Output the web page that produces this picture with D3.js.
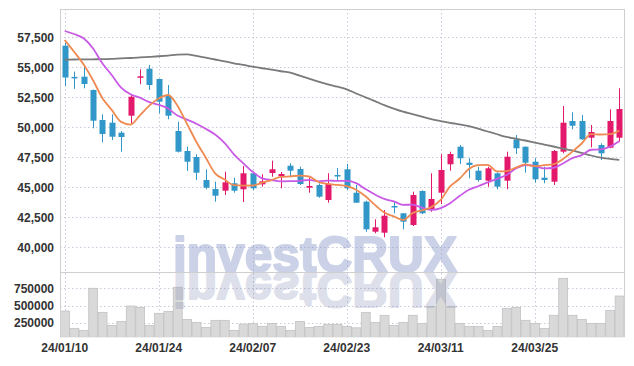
<!DOCTYPE html>
<html><head><meta charset="utf-8">
<script src="https://cdn.jsdelivr.net/npm/d3@7"></script>
<style>body{margin:0;background:#fff}svg{display:block}</style>
</head><body><div id="chart"></div>
<script>
const dates = ["24/01/10","24/01/11","24/01/12","24/01/15","24/01/16","24/01/17","24/01/18","24/01/19","24/01/22","24/01/23",
"24/01/24","24/01/25","24/01/26","24/01/29","24/01/30","24/01/31","24/02/01","24/02/02","24/02/05","24/02/06",
"24/02/07","24/02/08","24/02/13","24/02/14","24/02/15","24/02/16","24/02/19","24/02/20","24/02/21","24/02/22",
"24/02/23","24/02/26","24/02/27","24/02/28","24/02/29","24/03/04","24/03/05","24/03/06","24/03/07","24/03/08",
"24/03/11","24/03/12","24/03/13","24/03/14","24/03/15","24/03/18","24/03/19","24/03/20","24/03/21","24/03/22",
"24/03/25","24/03/26","24/03/27","24/03/28","24/03/29","24/04/01","24/04/02","24/04/03","24/04/04","24/04/05"];
const dateTicks = ["24/01/10","24/01/24","24/02/07","24/02/23","24/03/11","24/03/25"];
const priceTicks = [40000,42500,45000,47500,50000,52500,55000,57500];
const volumeTicks = [250000,500000,750000];

const open = [56800,54200,54217,53108,50608,50383,49550,50967,54200,54883,54025,52608,49692,48025,47525,45608,44858,44717,45333,44833,46167,45250,46192,45942,46800,46525,44967,45192,43942,46025,46500,44550,43800,41300,41217,43442,42833,41858,44692,43108,44550,46917,48383,47050,46383,45550,46167,45550,49000,48383,47133,45800,45467,47967,50525,50525,49133,48525,48300,49133];
const high = [57050,54650,55192,53150,51083,51083,49692,52692,54833,55192,54050,53525,50467,48383,47750,46500,45467,46300,45800,46775,46200,46083,47217,46275,47000,46717,45833,45333,46167,46608,46942,45192,43883,42333,43108,43858,42850,44633,44750,46167,47750,47967,48525,47417,46717,46717,46250,47967,49358,48400,47417,46717,48100,51775,51250,51025,50192,48667,51500,53250];
const low = [53450,53200,53250,49917,48750,48942,47967,50250,53583,53108,51167,50667,47900,46358,45608,44833,43800,44358,44550,43775,44750,45050,45883,44917,45833,45192,44550,44133,43717,45608,44775,43700,41300,41167,40833,42833,41500,41775,42775,42967,43608,46383,46942,45750,45467,45050,44833,44833,47775,46217,45383,45333,45192,47833,49833,48942,48333,47275,48250,48800];
const close = [54150,54150,53608,50550,49442,49217,49192,52550,54250,53525,52133,50967,47967,47133,46217,44967,44300,45417,44717,46167,44917,45500,46500,46108,46383,45275,45108,44217,45275,45917,44917,43717,41500,41667,42633,43333,42133,44358,42833,44025,46442,47775,47417,46858,45608,46583,45050,47550,48250,47050,45667,45608,48025,50383,50133,49000,49608,47833,50525,51525];
const volume = [420000,169000,140000,750000,401000,212000,270000,493000,474000,212000,387000,416000,765000,299000,256000,183000,285000,285000,140000,231000,241000,198000,241000,198000,140000,270000,183000,198000,227000,227000,198000,177000,401000,256000,358000,212000,256000,358000,241000,488000,881000,488000,241000,198000,198000,140000,198000,459000,474000,285000,241000,169000,358000,895000,358000,299000,241000,241000,430000,638000];
const ma5 = [57275,56300,55250,53942,52450,51450,50450,50230,51000,51800,52400,52690,51800,50300,48800,47480,46160,45650,45180,45140,45150,45380,45600,45870,45910,45980,45900,45440,45280,45200,45100,44800,44250,43540,42900,42580,42280,42850,43080,43350,43950,45070,45710,46530,46850,46870,46330,46350,46640,46910,46760,46840,46930,47360,47970,48650,49430,49400,49430,49720];
const ma10 = [58025,57775,57417,56583,55333,54358,53300,52750,52467,52100,51880,51560,50980,50640,50300,49880,49400,48700,47750,47000,46290,45750,45600,45500,45510,45540,45620,45500,45560,45530,45530,45350,44850,44400,44030,43830,43540,43550,43310,43120,43270,43680,44270,44790,45090,45410,45700,46020,46560,46860,46790,46570,46630,46980,47430,47680,48130,48160,48390,48840];
const ma60 = [55633,55650,55658,55667,55675,55700,55750,55775,55820,55870,55920,55980,56050,56080,55950,55800,55650,55500,55333,55200,55050,54920,54800,54670,54550,54300,54050,53800,53580,53380,53167,52820,52500,52180,51850,51560,51300,51100,50880,50680,50520,50370,50240,50100,49880,49650,49420,49200,49050,48900,48720,48560,48400,48230,48070,47860,47650,47480,47370,47280];

const W = 634, H = 366;
const L = 60, R = 624, T = 9, SEP = 272, B = 337.3;
const UP = "#e3196b", DOWN = "#3196c8";
const FONT = "'Liberation Sans', Arial, sans-serif";

const svg = d3.select("#chart").append("svg").attr("width", W).attr("height", H);

const x = d3.scaleBand().domain(dates).range([L, R]).paddingInner(0).paddingOuter(0);
const cx = d => x(d) + x.bandwidth() / 2;
const y = d3.scaleLinear().domain([40000, 57500]).range([247.3, 37.3]);
const yv = d3.scaleLinear().domain([0, 750000]).range([340, 288.3]);

const defs = svg.append("defs");
defs.append("clipPath").attr("id", "cp").append("rect").attr("x", L).attr("y", T).attr("width", R - L).attr("height", SEP - T);
defs.append("clipPath").attr("id", "cv").append("rect").attr("x", L).attr("y", SEP).attr("width", R - L).attr("height", B - SEP);

// grid
const grid = svg.append("g").attr("stroke", "#c9c9dc").attr("stroke-dasharray", "1.5,2.5").attr("stroke-width", 1);
grid.selectAll(".hp").data(priceTicks).join("line")
  .attr("x1", L).attr("x2", R).attr("y1", d => Math.round(y(d)) + 0.5).attr("y2", d => Math.round(y(d)) + 0.5);
grid.selectAll(".hv").data(volumeTicks).join("line")
  .attr("x1", L).attr("x2", R).attr("y1", d => Math.round(yv(d)) + 0.5).attr("y2", d => Math.round(yv(d)) + 0.5);
grid.selectAll(".vx").data(dateTicks).join("line")
  .attr("x1", d => Math.round(cx(d)) + 0.5).attr("x2", d => Math.round(cx(d)) + 0.5).attr("y1", T).attr("y2", B);

// volume bars
const idx = d3.range(dates.length);
svg.append("g").attr("clip-path", "url(#cv)").selectAll("rect").data(idx).join("rect")
  .attr("x", i => x(dates[i]) + 0.5).attr("width", x.bandwidth() - 0.5)
  .attr("y", i => yv(volume[i])).attr("height", i => B - yv(volume[i]))
  .attr("fill", "#d9d9d9").attr("stroke", "#c2c2c2").attr("stroke-width", 0.8);

// watermark (reflection drawn as a flipped copy below the separator)
const wm = svg.append("g").attr("opacity", 0.4);
wm.append("text").attr("x", 315).attr("y", SEP)
  .attr("font-family", FONT).attr("font-weight", "bold").attr("font-size", 50).attr("text-anchor", "middle")
  .attr("fill", "#7f8fc4").attr("stroke", "#7f8fc4").attr("stroke-width", 2).attr("stroke-linejoin", "round")
  .attr("textLength", 284).attr("lengthAdjust", "spacingAndGlyphs").text("investCRUX");
const refl = svg.append("g").attr("clip-path", "url(#cv)").attr("opacity", 0.26);
refl.append("g").attr("transform", `translate(0,${2 * SEP}) scale(1,-1)`)
  .append("text").attr("x", 315).attr("y", SEP)
  .attr("font-family", FONT).attr("font-weight", "bold").attr("font-size", 50).attr("text-anchor", "middle")
  .attr("fill", "#8088b0").attr("stroke", "#8088b0").attr("stroke-width", 2).attr("stroke-linejoin", "round")
  .attr("textLength", 284).attr("lengthAdjust", "spacingAndGlyphs").text("investCRUX");

// panel borders
const bord = svg.append("g").attr("stroke", "#cfcfcf").attr("stroke-width", 1);
bord.append("line").attr("x1", L + 0.5).attr("x2", L + 0.5).attr("y1", T).attr("y2", B);
bord.append("line").attr("x1", R + 0.5).attr("x2", R + 0.5).attr("y1", T).attr("y2", B);
bord.append("line").attr("x1", L).attr("x2", R).attr("y1", T + 0.5).attr("y2", T + 0.5);
bord.append("line").attr("x1", L).attr("x2", R).attr("y1", SEP + 0.5).attr("y2", SEP + 0.5);

// candles
const cg = svg.append("g").attr("clip-path", "url(#cp)");
const col = i => close[i] >= open[i] ? UP : DOWN;
cg.selectAll(".wick").data(idx).join("line")
  .attr("x1", i => Math.round(cx(dates[i])) + 0.5).attr("x2", i => Math.round(cx(dates[i])) + 0.5)
  .attr("y1", i => y(high[i])).attr("y2", i => y(low[i]))
  .attr("stroke", col).attr("stroke-width", 1);
cg.selectAll(".body").data(idx).join("rect")
  .attr("x", i => Math.round(cx(dates[i])) - 2.5).attr("width", 6)
  .attr("y", i => y(Math.max(open[i], close[i])))
  .attr("height", i => Math.max(1.5, Math.abs(y(open[i]) - y(close[i]))))
  .attr("fill", col);

// moving averages
const line = arr => d3.line().x((v, i) => cx(dates[i])).y(v => y(v)).curve(d3.curveMonotoneX)(arr);
const lg = svg.append("g").attr("clip-path", "url(#cp)").attr("fill", "none").attr("stroke-width", 1.8);
lg.append("path").attr("d", line(ma60)).attr("stroke", "#7a7a7a");
lg.append("path").attr("d", line(ma10)).attr("stroke", "#c95ae6");
lg.append("path").attr("d", line(ma5)).attr("stroke", "#ee8a52");

// axis labels
const axY = d3.axisLeft(y).tickValues(priceTicks).tickFormat(d3.format(",")).tickSize(0).tickPadding(6);
const gy = svg.append("g").attr("transform", `translate(${L},0)`).call(axY);
const axV = d3.axisLeft(yv).tickValues(volumeTicks).tickFormat(d3.format("d")).tickSize(0).tickPadding(6);
const gv = svg.append("g").attr("transform", `translate(${L},0)`).call(axV);
const axX = d3.axisBottom(x).tickValues(dateTicks).tickSize(0).tickPadding(6);
const gx = svg.append("g").attr("transform", `translate(0,${B})`).call(axX);
[gy, gv, gx].forEach(g => {
  g.select(".domain").remove();
  g.selectAll("text").attr("font-family", FONT).attr("font-weight", "bold").attr("font-size", 12).attr("fill", "#333");
});
</script></body></html>
